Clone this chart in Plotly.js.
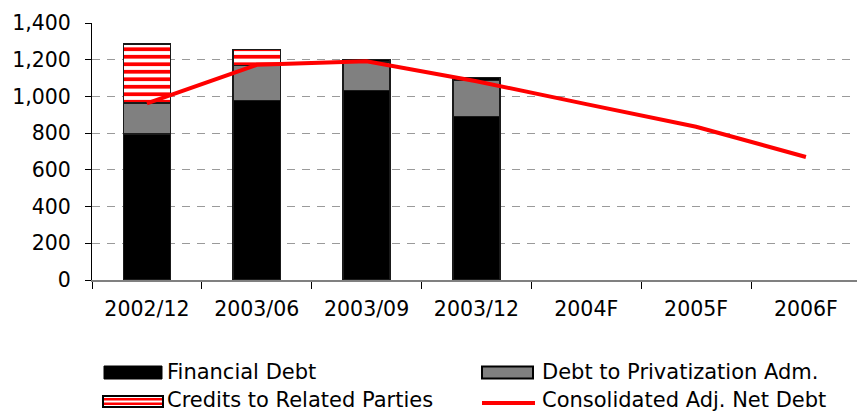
<!DOCTYPE html>
<html>
<head>
<meta charset="utf-8">
<script src="https://cdn.plot.ly/plotly-3.0.1.min.js"></script>
<style>html,body{margin:0;padding:0;background:#fff;overflow:hidden;}#chart{width:857px;height:412px;}</style>
</head>
<body>
<div id="chart"></div>
<script>
const categories = ['2002/12', '2003/06', '2003/09', '2003/12', '2004F', '2005F', '2006F'];
const financialDebt = [794, 978, 1031, 890, null, null, null];
const privatizationDebt = [170, 190, 156, 198, null, null, null];
const relatedCredits = [322, 89, 15, 15, null, null, null];
const netDebt = [962, 1172, 1192, 1083, 958, 835, 670];
const yTicks = [0, 200, 400, 600, 800, 1000, 1200, 1400];

const FONT = 'DejaVu Sans, Verdana, sans-serif';
const FS = 20.5;
const LFS = 21;
const L = 92, T = 23, PW = 765, PH = 257;
const px = v => (v - L) / PW;
const py = v => (T + PH - v) / PH;

const barLine = {color: '#1a1a1a', width: 1.5};
const traces = [
  {type: 'bar', name: 'Financial Debt', x: categories, y: financialDebt,
   marker: {color: '#000000', line: barLine}},
  {type: 'bar', name: 'Debt to Privatization Adm.', x: categories, y: privatizationDebt,
   marker: {color: '#808080', line: barLine}},
  {type: 'bar', name: 'Credits to Related Parties', x: categories, y: relatedCredits,
   marker: {color: '#ffffff', line: barLine,
            pattern: {shape: '-', fgcolor: ['#ff0000', '#ff0000', '#000000', '#000000'],
                      bgcolor: ['#ffffff', '#ffffff', '#000000', '#000000'], size: 7.5, solidity: 0.5}}},
  {type: 'scatter', mode: 'lines', name: 'Consolidated Adj. Net Debt', x: categories, y: netDebt,
   line: {color: '#ff0000', width: 4}}
];

const shapes = [
  {type: 'rect', xref: 'paper', yref: 'paper', x0: px(104), x1: px(162), y0: py(379), y1: py(366),
   fillcolor: '#000000', line: {color: '#000000', width: 1}},
  {type: 'rect', xref: 'paper', yref: 'paper', x0: px(482), x1: px(533), y0: py(378.5), y1: py(366.5),
   fillcolor: '#808080', line: {color: '#000000', width: 2}},
  {type: 'rect', xref: 'paper', yref: 'paper', x0: px(103), x1: px(163), y0: py(407), y1: py(396),
   fillcolor: '#ffffff', line: {color: '#000000', width: 2}},
  {type: 'rect', xref: 'paper', yref: 'paper', x0: px(104), x1: px(162), y0: py(400.5), y1: py(398),
   fillcolor: '#ff0000', line: {width: 0}},
  {type: 'rect', xref: 'paper', yref: 'paper', x0: px(104), x1: px(162), y0: py(405), y1: py(402.5),
   fillcolor: '#ff0000', line: {width: 0}},
  {type: 'line', xref: 'paper', yref: 'paper', x0: px(482), x1: px(535), y0: py(403), y1: py(403),
   line: {color: '#ff0000', width: 4}}
];

const legendText = [
  {text: 'Financial Debt', x: 166, y: 372},
  {text: 'Debt to Privatization Adm.', x: 541, y: 372},
  {text: 'Credits to Related Parties', x: 166, y: 399.5},
  {text: 'Consolidated Adj. Net Debt', x: 541, y: 399.5}
];
const annotations = legendText.map(a => ({
  text: a.text, xref: 'paper', yref: 'paper', x: px(a.x), y: py(a.y),
  xanchor: 'left', yanchor: 'middle', showarrow: false, borderpad: 0,
  font: {family: FONT, size: LFS, color: '#000000'}
}));

const layout = {
  width: 857, height: 412,
  margin: {l: L, r: 0, t: T, b: 412 - T - PH, pad: 0},
  paper_bgcolor: '#ffffff', plot_bgcolor: '#ffffff',
  barmode: 'stack', bargap: 0.57,
  showlegend: false,
  font: {family: FONT, size: FS, color: '#000000'},
  xaxis: {
    type: 'category', range: [-0.5, 6.465],
    showline: true, linecolor: '#808080', linewidth: 2,
    ticks: 'outside', tickson: 'boundaries', ticklen: 7, tickcolor: '#000000', tickwidth: 1,
    ticklabelstandoff: 9,
    showgrid: false, zeroline: false, fixedrange: true,
    tickfont: {family: FONT, size: FS, color: '#000000'}
  },
  yaxis: {
    range: [0, 1400], tickvals: yTicks, tickformat: ',d',
    showline: true, linecolor: '#000000', linewidth: 1,
    ticks: 'outside', ticklen: 6, tickcolor: '#000000', tickwidth: 1,
    ticklabelstandoff: 10,
    showgrid: true, gridcolor: '#9a9a9a', gridwidth: 1, griddash: '8px,7px',
    zeroline: false, fixedrange: true,
    tickfont: {family: FONT, size: FS, color: '#000000'}
  },
  shapes: shapes,
  annotations: annotations
};

Plotly.newPlot('chart', traces, layout, {staticPlot: true, displayModeBar: false});
</script>
</body>
</html>
